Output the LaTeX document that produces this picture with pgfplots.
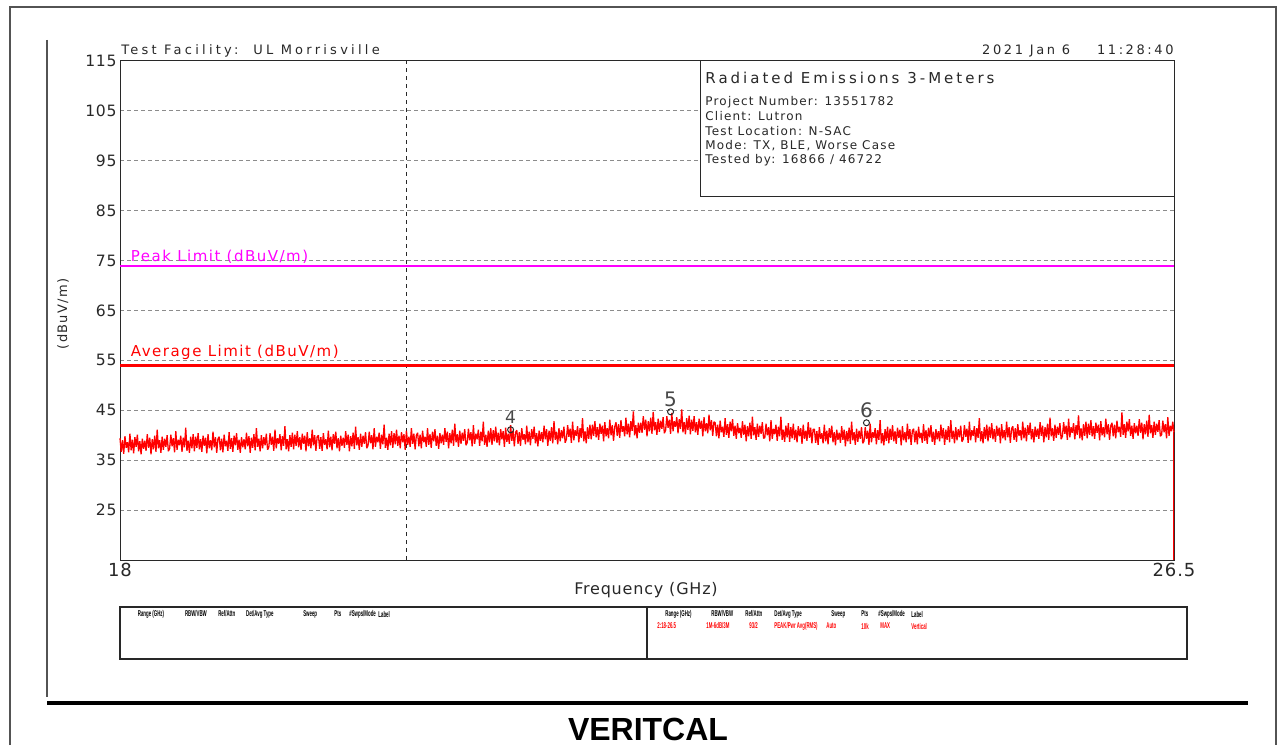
\documentclass[border=0pt]{standalone}
\usepackage{fontspec}
\setmainfont{DejaVu Sans}
\newfontfamily\lib{Liberation Sans}
\usepackage{pgfplots}
\pgfplotsset{compat=1.18}
\usepackage{pgfplotstable}
\definecolor{tr}{RGB}{255,0,0}
\definecolor{mg}{RGB}{255,0,255}
\definecolor{gr}{RGB}{140,140,140}
\definecolor{ink}{RGB}{40,40,40}
\newcommand\pfont[2]{\fontsize{#1}{#1}\selectfont\addfontfeature{LetterSpace=#2}}
\newcommand\hd[3]{\node[anchor=west,inner sep=0pt,font=\lib\bfseries\fontsize{4.2}{4.2}\selectfont,text=#3] at (#1) {\scalebox{0.52}[1]{#2}};}

% measured level, one value every 0.01 GHz from 18.00 to 26.50 GHz
\pgfplotstableread[row sep=\\]{
y\\
39.4\\ 36.7\\ 39.0\\ 36.3\\ 39.8\\ 37.5\\ 38.6\\ 36.6\\ 40.3\\ 37.0\\ 39.1\\ 36.4\\ 39.6\\ 37.7\\ 40.1\\ 36.8\\ 38.8\\ 36.2\\ 39.3\\ 37.3\\
38.9\\ 36.9\\ 40.2\\ 37.5\\ 39.5\\ 36.2\\ 39.2\\ 37.2\\ 39.9\\ 36.7\\ 41.1\\ 37.4\\ 39.0\\ 36.5\\ 39.7\\ 37.1\\ 39.3\\ 37.7\\ 40.0\\ 36.8\\
37.3\\ 40.1\\ 37.8\\ 39.4\\ 36.6\\ 40.8\\ 37.1\\ 39.1\\ 38.0\\ 39.9\\ 36.7\\ 39.5\\ 37.6\\ 41.5\\ 36.9\\ 38.9\\ 36.5\\ 39.7\\ 37.4\\ 40.2\\
36.8\\ 39.7\\ 37.5\\ 40.4\\ 37.2\\ 39.2\\ 36.7\\ 39.9\\ 37.9\\ 39.5\\ 36.4\\ 40.2\\ 37.4\\ 39.0\\ 37.0\\ 40.7\\ 37.6\\ 39.6\\ 36.5\\ 39.3\\
39.7\\ 37.0\\ 39.3\\ 36.6\\ 40.1\\ 37.8\\ 38.9\\ 36.9\\ 40.6\\ 37.3\\ 39.4\\ 36.7\\ 39.9\\ 38.0\\ 40.4\\ 37.1\\ 39.1\\ 36.5\\ 39.6\\ 37.6\\
39.2\\ 37.2\\ 40.5\\ 37.8\\ 39.8\\ 36.5\\ 39.5\\ 37.5\\ 40.2\\ 37.0\\ 41.4\\ 37.7\\ 39.3\\ 36.8\\ 40.0\\ 37.4\\ 39.6\\ 38.0\\ 40.3\\ 37.1\\
37.6\\ 40.4\\ 38.1\\ 39.7\\ 36.9\\ 41.1\\ 37.4\\ 39.4\\ 38.3\\ 40.2\\ 37.0\\ 39.8\\ 37.9\\ 41.8\\ 37.2\\ 39.2\\ 36.8\\ 40.0\\ 37.7\\ 40.5\\
37.2\\ 40.1\\ 37.9\\ 40.8\\ 37.6\\ 39.6\\ 37.1\\ 40.3\\ 38.3\\ 39.9\\ 36.8\\ 40.6\\ 37.8\\ 39.4\\ 37.4\\ 41.1\\ 38.0\\ 40.0\\ 36.9\\ 39.7\\
40.0\\ 37.3\\ 39.6\\ 36.9\\ 40.4\\ 38.1\\ 39.2\\ 37.2\\ 40.9\\ 37.6\\ 39.7\\ 37.0\\ 40.2\\ 38.3\\ 40.7\\ 37.4\\ 39.4\\ 36.8\\ 39.9\\ 37.9\\
39.5\\ 37.5\\ 40.8\\ 38.1\\ 40.1\\ 36.8\\ 39.8\\ 37.8\\ 40.5\\ 37.3\\ 41.7\\ 38.0\\ 39.6\\ 37.1\\ 40.3\\ 37.7\\ 39.9\\ 38.3\\ 40.6\\ 37.4\\
37.9\\ 40.7\\ 38.4\\ 40.0\\ 37.2\\ 41.4\\ 37.7\\ 39.7\\ 38.6\\ 40.5\\ 37.3\\ 40.1\\ 38.2\\ 42.1\\ 37.5\\ 39.5\\ 37.1\\ 40.3\\ 38.0\\ 40.8\\
37.5\\ 40.4\\ 38.2\\ 41.1\\ 37.9\\ 39.9\\ 37.4\\ 40.6\\ 38.6\\ 40.2\\ 37.1\\ 40.9\\ 38.1\\ 39.7\\ 37.7\\ 41.4\\ 38.3\\ 40.3\\ 37.2\\ 40.0\\
40.5\\ 37.8\\ 40.1\\ 37.4\\ 40.9\\ 38.6\\ 39.7\\ 37.7\\ 41.4\\ 38.1\\ 40.2\\ 37.5\\ 40.7\\ 38.8\\ 41.2\\ 37.9\\ 39.9\\ 37.3\\ 40.4\\ 38.4\\
40.1\\ 38.1\\ 41.4\\ 38.7\\ 40.7\\ 37.4\\ 40.4\\ 38.4\\ 41.1\\ 37.9\\ 42.3\\ 38.6\\ 40.2\\ 37.7\\ 40.9\\ 38.3\\ 40.5\\ 38.9\\ 41.2\\ 38.0\\
38.5\\ 41.3\\ 39.0\\ 40.6\\ 37.8\\ 42.0\\ 38.3\\ 40.3\\ 39.2\\ 41.1\\ 37.9\\ 40.7\\ 38.8\\ 42.7\\ 38.1\\ 40.1\\ 37.7\\ 40.9\\ 38.6\\ 41.4\\
38.1\\ 41.0\\ 38.8\\ 41.7\\ 38.5\\ 40.5\\ 38.0\\ 41.2\\ 39.2\\ 40.8\\ 37.7\\ 41.5\\ 38.7\\ 40.3\\ 38.3\\ 42.0\\ 38.9\\ 40.9\\ 37.8\\ 40.6\\
41.0\\ 38.3\\ 40.6\\ 37.9\\ 41.4\\ 39.1\\ 40.2\\ 38.2\\ 41.9\\ 38.6\\ 40.7\\ 38.0\\ 41.2\\ 39.3\\ 41.7\\ 38.4\\ 40.4\\ 37.8\\ 40.9\\ 38.9\\
40.6\\ 38.6\\ 41.9\\ 39.2\\ 41.2\\ 37.9\\ 40.9\\ 38.9\\ 41.6\\ 38.4\\ 42.8\\ 39.1\\ 40.7\\ 38.2\\ 41.4\\ 38.8\\ 41.0\\ 39.4\\ 41.7\\ 38.5\\
39.2\\ 42.0\\ 39.7\\ 41.3\\ 38.5\\ 42.7\\ 39.0\\ 41.0\\ 39.9\\ 41.8\\ 38.6\\ 41.4\\ 39.5\\ 43.4\\ 38.8\\ 40.8\\ 38.4\\ 41.6\\ 39.3\\ 42.1\\
39.2\\ 42.1\\ 39.9\\ 42.8\\ 39.6\\ 41.6\\ 39.1\\ 42.3\\ 40.3\\ 41.9\\ 38.8\\ 42.6\\ 39.8\\ 41.4\\ 39.4\\ 43.1\\ 40.0\\ 42.0\\ 38.9\\ 41.7\\
42.6\\ 39.9\\ 42.2\\ 39.5\\ 43.0\\ 40.7\\ 41.8\\ 39.8\\ 43.5\\ 40.2\\ 42.3\\ 39.6\\ 42.8\\ 40.9\\ 44.8\\ 40.0\\ 42.0\\ 39.4\\ 42.5\\ 40.5\\
42.5\\ 40.5\\ 43.8\\ 41.1\\ 43.1\\ 39.8\\ 42.8\\ 40.8\\ 43.5\\ 40.3\\ 44.7\\ 41.0\\ 42.6\\ 40.1\\ 43.3\\ 40.7\\ 42.9\\ 41.3\\ 43.6\\ 40.4\\
41.0\\ 43.8\\ 41.5\\ 43.1\\ 40.3\\ 44.5\\ 40.8\\ 42.8\\ 41.7\\ 43.6\\ 40.4\\ 43.2\\ 41.3\\ 45.2\\ 40.6\\ 42.6\\ 40.2\\ 43.4\\ 41.1\\ 43.9\\
40.2\\ 43.1\\ 40.9\\ 43.8\\ 40.6\\ 42.6\\ 40.1\\ 43.3\\ 41.3\\ 42.9\\ 39.8\\ 43.6\\ 40.8\\ 42.4\\ 40.4\\ 44.1\\ 41.0\\ 43.0\\ 39.9\\ 42.7\\
42.5\\ 39.8\\ 42.1\\ 39.4\\ 42.9\\ 40.6\\ 41.7\\ 39.7\\ 43.4\\ 40.1\\ 42.2\\ 39.5\\ 42.7\\ 40.8\\ 43.2\\ 39.9\\ 41.9\\ 39.3\\ 42.4\\ 40.4\\
41.5\\ 39.5\\ 42.8\\ 40.1\\ 42.1\\ 38.8\\ 41.8\\ 39.8\\ 42.5\\ 39.3\\ 43.7\\ 40.0\\ 41.6\\ 39.1\\ 42.3\\ 39.7\\ 41.9\\ 40.3\\ 42.6\\ 39.4\\
39.5\\ 42.3\\ 40.0\\ 41.6\\ 38.8\\ 43.0\\ 39.3\\ 41.3\\ 40.2\\ 42.1\\ 38.9\\ 41.7\\ 39.8\\ 43.7\\ 39.1\\ 41.1\\ 38.7\\ 41.9\\ 39.6\\ 42.4\\
38.7\\ 41.6\\ 39.4\\ 42.3\\ 39.1\\ 41.1\\ 38.6\\ 41.8\\ 39.8\\ 41.4\\ 38.3\\ 42.1\\ 39.3\\ 40.9\\ 38.9\\ 42.6\\ 39.5\\ 41.5\\ 38.4\\ 41.2\\
41.2\\ 38.5\\ 40.8\\ 38.1\\ 41.6\\ 39.3\\ 40.4\\ 38.4\\ 42.1\\ 38.8\\ 40.9\\ 38.2\\ 41.4\\ 39.5\\ 41.9\\ 38.6\\ 40.6\\ 38.0\\ 41.1\\ 39.1\\
40.5\\ 38.5\\ 41.8\\ 39.1\\ 41.1\\ 37.8\\ 40.8\\ 38.8\\ 41.5\\ 38.3\\ 42.7\\ 39.0\\ 40.6\\ 38.1\\ 41.3\\ 38.7\\ 40.9\\ 39.3\\ 41.6\\ 38.4\\
38.8\\ 41.6\\ 39.3\\ 40.9\\ 38.1\\ 42.3\\ 38.6\\ 40.6\\ 39.5\\ 41.4\\ 38.2\\ 41.0\\ 39.1\\ 43.0\\ 38.4\\ 40.4\\ 38.0\\ 41.2\\ 38.9\\ 41.7\\
38.4\\ 41.3\\ 39.1\\ 42.0\\ 38.8\\ 40.8\\ 38.3\\ 41.5\\ 39.5\\ 41.1\\ 38.0\\ 41.8\\ 39.0\\ 40.6\\ 38.6\\ 42.3\\ 39.2\\ 41.2\\ 38.1\\ 40.9\\
41.3\\ 38.6\\ 40.9\\ 38.2\\ 41.7\\ 39.4\\ 40.5\\ 38.5\\ 42.2\\ 38.9\\ 41.0\\ 38.3\\ 41.5\\ 39.6\\ 42.0\\ 38.7\\ 40.7\\ 38.1\\ 41.2\\ 39.2\\
40.8\\ 38.8\\ 42.1\\ 39.4\\ 41.4\\ 38.1\\ 41.1\\ 39.1\\ 41.8\\ 38.6\\ 43.0\\ 39.3\\ 40.9\\ 38.4\\ 41.6\\ 39.0\\ 41.2\\ 39.6\\ 41.9\\ 38.7\\
39.2\\ 42.0\\ 39.7\\ 41.3\\ 38.5\\ 42.7\\ 39.0\\ 41.0\\ 39.9\\ 41.8\\ 38.6\\ 41.4\\ 39.5\\ 43.4\\ 38.8\\ 40.8\\ 38.4\\ 41.6\\ 39.3\\ 42.1\\
38.8\\ 41.7\\ 39.5\\ 42.4\\ 39.2\\ 41.2\\ 38.7\\ 41.9\\ 39.9\\ 41.5\\ 38.4\\ 42.2\\ 39.4\\ 41.0\\ 39.0\\ 42.7\\ 39.6\\ 41.6\\ 38.5\\ 41.3\\
41.8\\ 39.1\\ 41.4\\ 38.7\\ 42.2\\ 39.9\\ 41.0\\ 39.0\\ 42.7\\ 39.4\\ 41.5\\ 38.8\\ 42.0\\ 40.1\\ 42.5\\ 39.2\\ 41.2\\ 38.6\\ 41.7\\ 39.7\\
41.3\\ 39.3\\ 42.6\\ 39.9\\ 41.9\\ 38.6\\ 41.6\\ 39.6\\ 42.3\\ 39.1\\ 43.5\\ 39.8\\ 41.4\\ 38.9\\ 42.1\\ 39.5\\ 41.7\\ 40.1\\ 42.4\\ 39.2\\
39.8\\ 42.6\\ 40.3\\ 41.9\\ 39.1\\ 43.3\\ 39.6\\ 41.6\\ 40.5\\ 42.4\\ 39.2\\ 42.0\\ 40.1\\ 44.0\\ 39.4\\ 41.4\\ 39.0\\ 42.2\\ 39.9\\ 42.7\\
39.4\\ 42.3\\ 40.1\\ 43.0\\ 39.8\\ 41.8\\ 39.3\\ 42.5\\ 40.5\\ 42.1\\ 39.0\\ 42.8\\ 40.0\\ 41.6\\ 39.6\\ 43.3\\ 40.2\\ 42.2\\ 39.1\\ 41.9\\
42.5\\ 39.8\\ 42.1\\ 39.4\\ 42.9\\ 40.6\\ 41.7\\ 39.7\\ 44.6\\ 40.1\\ 42.2\\ 39.5\\ 42.7\\ 40.8\\ 43.2\\ 39.9\\ 41.9\\ 39.3\\ 42.4\\ 40.4\\
41.9\\ 39.9\\ 43.2\\ 40.5\\ 42.5\\ 39.2\\ 42.2\\ 40.2\\ 42.9\\ 39.7\\ 44.1\\ 40.4\\ 42.0\\ 39.5\\ 42.7\\ 40.1\\ 42.3\\ 40.7\\ 43.0\\ 39.8\\
40.1\\ 42.9\\ 40.6\\ 42.2\\ 39.4\\ 43.6\\ 39.9\\ 41.9\\ 40.8\\ 42.7\\ 40.6\\
}\trace

\begin{document}
\begin{tikzpicture}
\begin{scope}[x=0.5pt,y=-0.5pt]
\path[use as bounding box] (0,0) rectangle (1285,745);
\end{scope}
\begin{axis}[
  at={(60pt,-280pt)}, anchor=south west,
  scale only axis, width=527pt, height=249.5pt,
  xmin=18, xmax=26.5, ymin=15, ymax=115,
  xtick={18,26.5}, xticklabels={18,26.5},
  ytick={25,35,...,115},
  ymajorgrids,
  grid style={gr, dash pattern=on 2pt off 1.5pt, line width=0.5pt},
  major tick length=0pt,
  axis line style={ink, line width=0.5pt},
  /pgf/number format/assume math mode=true,
  yticklabel style={font=\pfont{7.8}{5}, inner sep=1.5pt, text=ink},
  xticklabel style={font=\pfont{9}{5}, inner sep=1.5pt, text=ink},
  clip=false,
]
\addplot[ink, dash pattern=on 2pt off 2pt, line width=0.5pt] coordinates {(20.31,15) (20.31,115)};
\addplot[mg, line width=1pt] coordinates {(18,74) (26.5,74)};
\addplot[tr, line width=1.5pt] coordinates {(18,54) (26.5,54)};
\addplot[tr, line width=0.65pt, line join=bevel] table[x expr={18+0.01*\coordindex}, y=y] {\trace};
\addplot[only marks, mark=o, mark size=1.5pt, ink, mark options={line width=0.5pt}] coordinates {(21.15,41.1) (22.44,44.7) (24.02,42.5)};
\node[font=\pfont{8.5}{0}, text=ink!85] at (axis cs:21.15,43.6) {4};
\node[font=\pfont{10}{0}, text=ink!85] at (axis cs:22.44,47.1) {5};
\node[font=\pfont{10}{0}, text=ink!85] at (axis cs:24.02,45.1) {6};
\end{axis}
\begin{axis}[
  at={(60pt,-280pt)}, anchor=south west,
  scale only axis, width=527pt, height=249.5pt,
  xmin=18, xmax=26.5, ymin=15, ymax=115,
  hide axis,
]
\addplot[tr, line width=0.9pt] coordinates {(26.5,40.6) (26.5,15)};
\end{axis}
\begin{scope}[x=0.5pt,y=-0.5pt]
% outer frame
\draw[ink!80, line width=0.6pt] (10,745) -- (10,7) -- (1276,7) -- (1276,745);
\draw[ink!80, line width=0.6pt] (47,40) -- (47,697);
\draw[black, line width=1.6pt] (47,703) -- (1248,703);
\node[font=\lib\bfseries\fontsize{16}{16}\selectfont] at (648,729) {VERITCAL};
% header texts
\node[anchor=base west, inner sep=0pt, font=\pfont{6.5}{25}, text=ink] at (121,55) {Test Facility:\ \ UL Morrisville};
\node[anchor=base east, inner sep=0pt, font=\pfont{6.5}{20}, text=ink] at (1174,55) {2021 Jan 6\ \ \ \ 11:28:40};
% info box
\draw[ink, line width=0.5pt, fill=white] (700,61) rectangle (1174,197);
\node[anchor=west, inner sep=0pt, font=\pfont{7.5}{20}, text=ink] at (705,78) {Radiated Emissions 3-Meters};
\node[anchor=west, inner sep=0pt, font=\pfont{6}{10}, text=ink] at (705,102) {Project Number: 13551782};
\node[anchor=west, inner sep=0pt, font=\pfont{6}{10}, text=ink] at (705,116.5) {Client: Lutron};
\node[anchor=west, inner sep=0pt, font=\pfont{6}{10}, text=ink] at (705,131) {Test Location: N-SAC};
\node[anchor=west, inner sep=0pt, font=\pfont{6}{10}, text=ink] at (705,145.5) {Mode: TX, BLE, Worse Case};
\node[anchor=west, inner sep=0pt, font=\pfont{6}{10}, text=ink] at (705,160) {Tested by: 16866 / 46722};
% limit labels
\node[anchor=west, inner sep=0pt, font=\pfont{7.5}{10}, text=mg] at (130.5,257) {Peak Limit (dBuV/m)};
\node[anchor=west, inner sep=0pt, font=\pfont{7.5}{10}, text=tr] at (130.5,352) {Average Limit (dBuV/m)};
% axis titles
\node[rotate=90, inner sep=0pt, font=\pfont{6.5}{10}, text=ink] at (63,314) {(dBuV/m)};
\node[inner sep=0pt, font=\pfont{8}{5}, text=ink] at (646,590) {Frequency (GHz)};
% bottom table
\draw[ink, line width=0.6pt] (120,607) rectangle (1187,659);
\draw[ink, line width=0.6pt] (647,607) -- (647,659);
\hd{137.5,614}{Range (GHz)}{black}
\hd{184.6,614}{RBW/VBW}{black}
\hd{217.9,614}{Ref/Attn}{black}
\hd{245.7,614}{Det/Avg Type}{black}
\hd{302.9,614}{Sweep}{black}
\hd{334,614}{Pts}{black}
\hd{349,614}{\#Swps/Mode}{black}
\hd{378,614}{Label}{black}
\hd{665,614}{Range (GHz)}{black}
\hd{711,614}{RBW/VBW}{black}
\hd{745,614}{Ref/Attn}{black}
\hd{774,614}{Det/Avg Type}{black}
\hd{831,614}{Sweep}{black}
\hd{861,614}{Pts}{black}
\hd{878,614}{\#Swps/Mode}{black}
\hd{911,614}{Label}{black}
\hd{657,626}{2:18-26.5}{tr}
\hd{706,626}{1M-6dB/3M}{tr}
\hd{749,626}{93/2}{tr}
\hd{774,626}{PEAK/Pwr Avg(RMS)}{tr}
\hd{826,626}{Auto}{tr}
\hd{861,626}{10k}{tr}
\hd{880,626}{MAX}{tr}
\hd{911,626}{Vertical}{tr}
\end{scope}
\end{tikzpicture}
\end{document}
